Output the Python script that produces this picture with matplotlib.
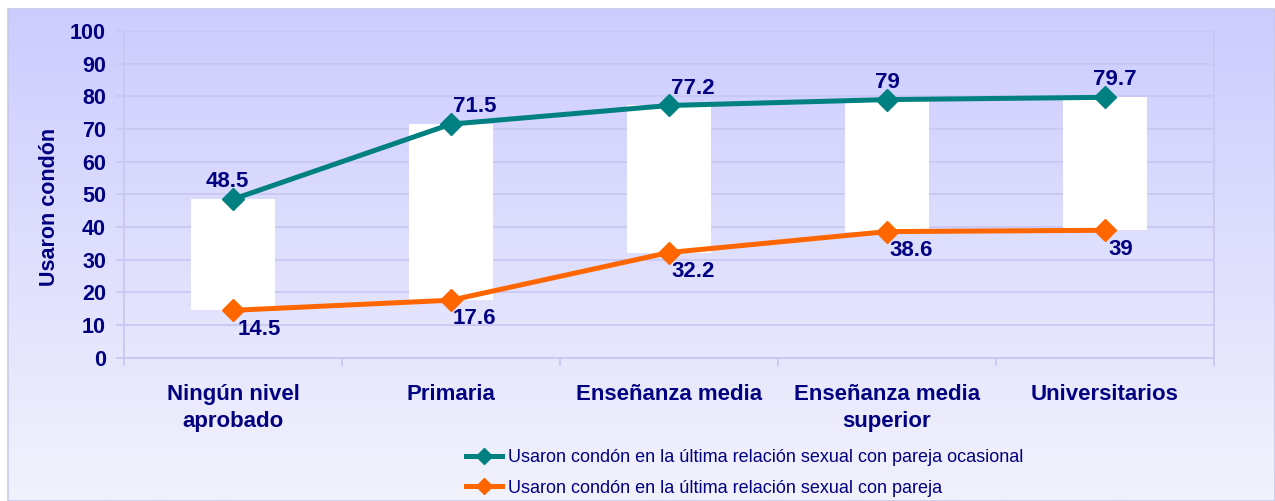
import numpy as np
import matplotlib
matplotlib.use("Agg")
import matplotlib.pyplot as plt
from matplotlib.patches import Rectangle

# datos
categorias = ["Ningún nivel\naprobado", "Primaria", "Enseñanza media",
              "Enseñanza media\nsuperior", "Universitarios"]
ocasional = [48.5, 71.5, 77.2, 79.0, 79.7]
pareja = [14.5, 17.6, 32.2, 38.6, 39.0]
etq_ocasional = ["48.5", "71.5", "77.2", "79", "79.7"]
etq_pareja = ["14.5", "17.6", "32.2", "38.6", "39"]
serie1 = "Usaron condón en la última relación sexual con pareja ocasional"
serie2 = "Usaron condón en la última relación sexual con pareja"
yticks = list(range(0, 101, 10))

# desplazamiento horizontal de las etiquetas (px)
dx_sup = [-6, 24, 24, 0, 10]
dx_inf = [26, 23, 24, 24, 16]

navy = "#000080"
teal = "#008080"
orange = "#FF6600"
grid_c = "#C8C8F4"

plt.rcParams['font.family'] = ['Liberation Sans', 'DejaVu Sans']

fig = plt.figure(figsize=(12.75, 5.01), dpi=100)

# fondo degradado del area del grafico
bg = fig.add_axes([8/1275, 0, 1 - 8/1275, 1 - 9/501])
grad = np.linspace(0, 1, 256).reshape(-1, 1)
top = np.array([204, 204, 255]) / 255.0
bot = np.array([242, 242, 252]) / 255.0
img = top[None, None, :] * (1 - grad[:, :, None]) + bot[None, None, :] * grad[:, :, None]
bg.imshow(img, aspect='auto', extent=[0, 1, 0, 1], origin='upper')
bg.set_xlim(0, 1); bg.set_ylim(0, 1)
bg.axis('off')
bg.add_patch(Rectangle((0, 0), 1, 1, fill=False, edgecolor="#C8C8EC", lw=1.2,
                       transform=bg.transAxes, clip_on=False))

ax = fig.add_axes([124/1275, 1 - 357.7/501, (1214 - 124)/1275, (357.7 - 31)/501])
ax.patch.set_alpha(0)
x = np.arange(len(categorias))

# barras arriba/abajo
low = np.minimum(ocasional, pareja)
high = np.maximum(ocasional, pareja)
ax.bar(x, high - low, bottom=low, width=0.385, color="white", edgecolor="none", zorder=2)

l1, = ax.plot(x, ocasional, color=teal, lw=3.6, marker='D', ms=11, zorder=3, label=serie1)
l2, = ax.plot(x, pareja, color=orange, lw=3.6, marker='D', ms=11, zorder=3, label=serie2)

for i in range(len(x)):
    ax.annotate(etq_ocasional[i], (x[i], ocasional[i]), xytext=(dx_sup[i]*0.72, 12.5),
                textcoords='offset points', ha='center', va='center',
                fontsize=16, fontweight='bold', color=navy, zorder=4)
    ax.annotate(etq_pareja[i], (x[i], pareja[i]), xytext=(dx_inf[i]*0.72, -13.5),
                textcoords='offset points', ha='center', va='center',
                fontsize=16, fontweight='bold', color=navy, zorder=4)

ax.set_xlim(-0.5, len(x) - 0.5)
ax.set_ylim(0, 100)
ax.set_yticks(yticks)
ax.set_yticklabels([str(v) for v in yticks], fontsize=15.5, fontweight='bold', color=navy)
ax.yaxis.grid(True, color=grid_c, lw=1.3, zorder=0)
ax.set_axisbelow(True)

ax.set_xticks(x)
ax.set_xticklabels(categorias, fontsize=16, fontweight='bold', color=navy, linespacing=1.35)
ax.set_xticks(np.arange(-0.5, len(x), 1), minor=True)
ax.tick_params(axis='x', which='major', length=0, pad=19)
ax.tick_params(axis='x', which='minor', length=6, color=grid_c, width=1.3)
ax.tick_params(axis='y', length=6, color=grid_c, width=1.3, pad=7)

for s in ['left', 'bottom', 'right']:
    ax.spines[s].set_color(grid_c)
    ax.spines[s].set_linewidth(1.3)
ax.spines['top'].set_visible(False)

ax.set_ylabel("Usaron condón", fontsize=15.5, fontweight='bold', color=navy)
ax.yaxis.set_label_coords(-0.059, 0.46)

leg = fig.legend(handles=[l1, l2], loc='upper left', bbox_to_anchor=(466/1275, 1 - 449/501),
                 frameon=False, handlelength=2.0, handletextpad=0.35, labelspacing=0.75,
                 borderaxespad=0, borderpad=0,
                 prop={'size': 13})
for t in leg.get_texts():
    t.set_color(navy)
for h in leg.legend_handles:
    h.set_markersize(8)

fig.savefig("out.png", dpi=100)
